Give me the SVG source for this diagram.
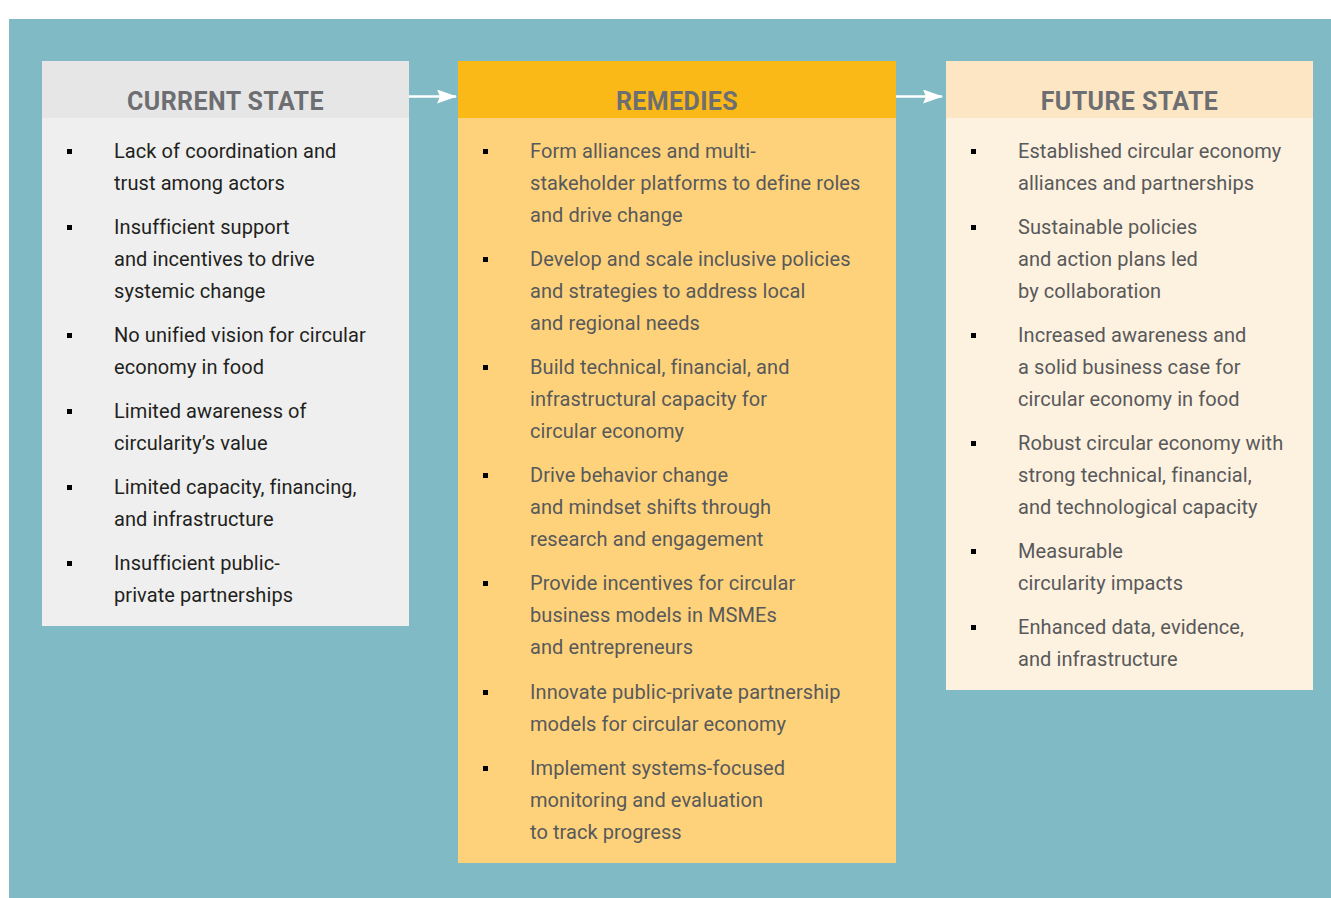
<svg xmlns="http://www.w3.org/2000/svg" width="1331" height="898" viewBox="0 0 1331 898">
<style>
.hd{font-family:Roboto,"Liberation Sans",sans-serif;font-weight:bold;font-size:25px;fill:#6d6e71;text-anchor:middle;letter-spacing:0.4px}
.tx{font-family:Roboto,"Liberation Sans",sans-serif;font-size:20px;letter-spacing:0.08px}
.c1{fill:#231f20}
.c2{fill:#58595b}
.bul{fill:#000}
.conn{stroke:#fff;stroke-width:2.5;fill:none}
</style>
<defs>
<marker id="ah2" markerWidth="20" markerHeight="14" refX="19" refY="7" orient="auto" markerUnits="userSpaceOnUse" viewBox="0 0 20 14">
<path d="M0,0 L20,7 L0,14 L3,7 Z" fill="#fff"/>
</marker>
</defs>
<rect x="0" y="0" width="1331" height="898" fill="#fff"/>
<rect x="9" y="19" width="1322" height="879" fill="#80bbc5"/>

<g id="current-state">
<rect x="42" y="61" width="367" height="565" fill="#efefef"/>
<rect x="42" y="61" width="367" height="57" fill="#e6e6e6"/>
<text class="hd" x="225.5" y="110">CURRENT STATE</text>
<g class="bul">
<rect x="67" y="149" width="5" height="5"/>
<rect x="67" y="225" width="5" height="5"/>
<rect x="67" y="333" width="5" height="5"/>
<rect x="67" y="409" width="5" height="5"/>
<rect x="67" y="485" width="5" height="5"/>
<rect x="67" y="561" width="5" height="5"/>
</g>
<text class="tx c1">
<tspan x="114" y="158">Lack of coordination and</tspan>
<tspan x="114" y="190">trust among actors</tspan>
<tspan x="114" y="234">Insufficient support</tspan>
<tspan x="114" y="266">and incentives to drive</tspan>
<tspan x="114" y="298">systemic change</tspan>
<tspan x="114" y="342">No unified vision for circular</tspan>
<tspan x="114" y="374">economy in food</tspan>
<tspan x="114" y="418">Limited awareness of</tspan>
<tspan x="114" y="450">circularity’s value</tspan>
<tspan x="114" y="494">Limited capacity, financing,</tspan>
<tspan x="114" y="526">and infrastructure</tspan>
<tspan x="114" y="570">Insufficient public-</tspan>
<tspan x="114" y="602">private partnerships</tspan>
</text>
</g>

<g id="remedies">
<rect x="458" y="61" width="438" height="802" fill="#fed27a"/>
<rect x="458" y="61" width="438" height="57" fill="#fbb917"/>
<text class="hd" x="677" y="110">REMEDIES</text>
<g class="bul">
<rect x="483" y="149" width="5" height="5"/>
<rect x="483" y="257" width="5" height="5"/>
<rect x="483" y="365" width="5" height="5"/>
<rect x="483" y="473" width="5" height="5"/>
<rect x="483" y="581" width="5" height="5"/>
<rect x="483" y="690" width="5" height="5"/>
<rect x="483" y="766" width="5" height="5"/>
</g>
<text class="tx c2">
<tspan x="530" y="158">Form alliances and multi-</tspan>
<tspan x="530" y="190">stakeholder platforms to define roles</tspan>
<tspan x="530" y="222">and drive change</tspan>
<tspan x="530" y="266">Develop and scale inclusive policies</tspan>
<tspan x="530" y="298">and strategies to address local</tspan>
<tspan x="530" y="330">and regional needs</tspan>
<tspan x="530" y="374">Build technical, financial, and</tspan>
<tspan x="530" y="406">infrastructural capacity for</tspan>
<tspan x="530" y="438">circular economy</tspan>
<tspan x="530" y="482">Drive behavior change</tspan>
<tspan x="530" y="514">and mindset shifts through</tspan>
<tspan x="530" y="546">research and engagement</tspan>
<tspan x="530" y="590">Provide incentives for circular</tspan>
<tspan x="530" y="622">business models in MSMEs</tspan>
<tspan x="530" y="654">and entrepreneurs</tspan>
<tspan x="530" y="699">Innovate public-private partnership</tspan>
<tspan x="530" y="731">models for circular economy</tspan>
<tspan x="530" y="775">Implement systems-focused</tspan>
<tspan x="530" y="807">monitoring and evaluation</tspan>
<tspan x="530" y="839">to track progress</tspan>
</text>
</g>

<g id="future-state">
<rect x="946" y="61" width="367" height="629" fill="#fdf1df"/>
<rect x="946" y="61" width="367" height="57" fill="#fde6c4"/>
<text class="hd" x="1129.5" y="110">FUTURE STATE</text>
<g class="bul">
<rect x="971" y="149" width="5" height="5"/>
<rect x="971" y="225" width="5" height="5"/>
<rect x="971" y="333" width="5" height="5"/>
<rect x="971" y="441" width="5" height="5"/>
<rect x="971" y="549" width="5" height="5"/>
<rect x="971" y="625" width="5" height="5"/>
</g>
<text class="tx c2">
<tspan x="1018" y="158">Established circular economy</tspan>
<tspan x="1018" y="190">alliances and partnerships</tspan>
<tspan x="1018" y="234">Sustainable policies</tspan>
<tspan x="1018" y="266">and action plans led</tspan>
<tspan x="1018" y="298">by collaboration</tspan>
<tspan x="1018" y="342">Increased awareness and</tspan>
<tspan x="1018" y="374">a solid business case for</tspan>
<tspan x="1018" y="406">circular economy in food</tspan>
<tspan x="1018" y="450">Robust circular economy with</tspan>
<tspan x="1018" y="482">strong technical, financial,</tspan>
<tspan x="1018" y="514">and technological capacity</tspan>
<tspan x="1018" y="558">Measurable</tspan>
<tspan x="1018" y="590">circularity impacts</tspan>
<tspan x="1018" y="634">Enhanced data, evidence,</tspan>
<tspan x="1018" y="666">and infrastructure</tspan>
</text>
</g>

<g id="connectors">
<line class="conn" x1="409" y1="96.5" x2="456" y2="96.5" marker-end="url(#ah2)"/>
<line class="conn" x1="896" y1="96.5" x2="942" y2="96.5" marker-end="url(#ah2)"/>
</g>
</svg>
